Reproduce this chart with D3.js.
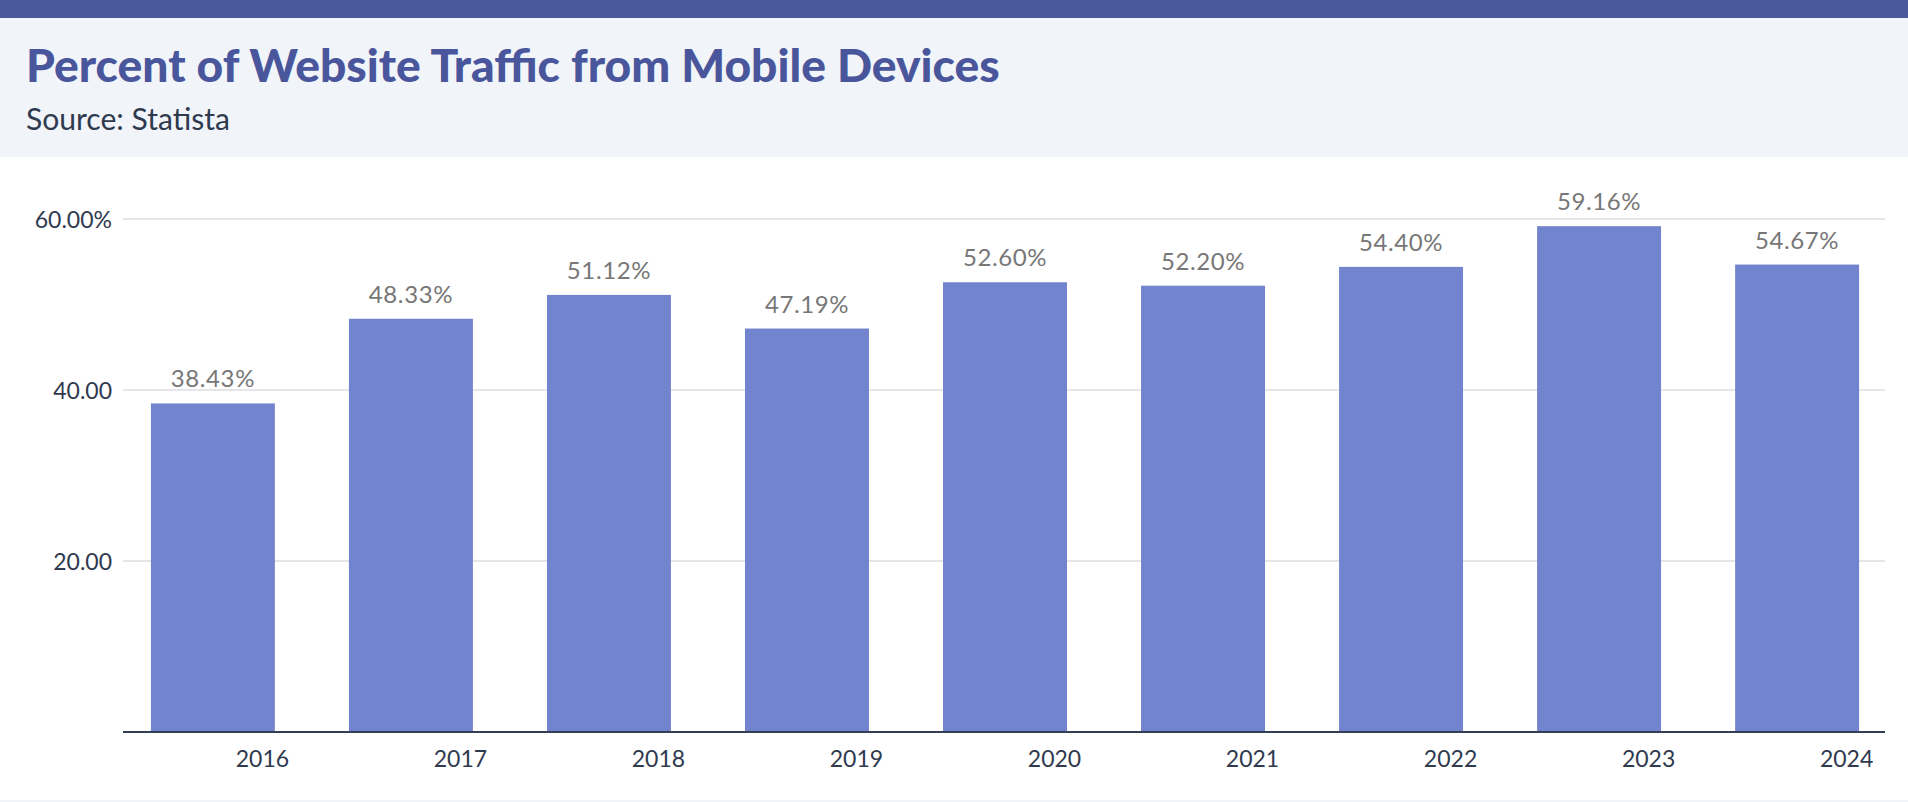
<!DOCTYPE html>
<html>
<head>
<meta charset="utf-8">
<script src="https://cdn.jsdelivr.net/npm/d3@7"></script>
<style>
  html, body { margin: 0; padding: 0; background: #ffffff; }
  svg { display: block; }
</style>
</head>
<body>
<script>
// ---- Data ----
const years = ["2016", "2017", "2018", "2019", "2020", "2021", "2022", "2023", "2024"];
const values = [38.43, 48.33, 51.12, 47.19, 52.60, 52.20, 54.40, 59.16, 54.67];
const valueLabels = ["38.43%", "48.33%", "51.12%", "47.19%", "52.60%", "52.20%", "54.40%", "59.16%", "54.67%"];
const yTicks = [20, 40, 60];
const yTickLabels = ["20.00", "40.00", "60.00%"];
const titleText = "Percent of Website Traffic from Mobile Devices";
const sourceText = "Source: Statista";

// ---- Layout ----
const W = 1908, H = 802;
const svg = d3.select("body").append("svg").attr("width", W).attr("height", H);

// header
svg.append("rect").attr("x", 0).attr("y", 0).attr("width", W).attr("height", 157).attr("fill", "#f1f4f9");
svg.append("rect").attr("x", 0).attr("y", 0).attr("width", W).attr("height", 18).attr("fill", "#4a589c");
svg.append("rect").attr("x", 0).attr("y", 800).attr("width", W).attr("height", 2).attr("fill", "#f1f4f9");

function fitText(sel, target) {
  const len = sel.node().getComputedTextLength();
  const fs = parseFloat(sel.attr("font-size"));
  sel.attr("font-size", (fs * target / len).toFixed(2));
}

const title = svg.append("text")
  .attr("x", 26).attr("y", 82)
  .attr("font-family", "Lato, 'Open Sans', sans-serif")
  .attr("font-weight", 900)
  .attr("font-size", 44)
  .attr("fill", "#4a569c")
  .text(titleText);
fitText(title, 974);

const source = svg.append("text")
  .attr("x", 26).attr("y", 130)
  .attr("font-family", "Lato, 'Open Sans', sans-serif")
  .attr("font-weight", 400)
  .attr("font-size", 26)
  .attr("fill", "#2f3a4f")
  .text(sourceText);
fitText(source, 204);

// ---- Scales ----
const x0 = 123, x1 = 1887;
const x = d3.scaleBand().domain(years).range([x0, x1]).paddingInner(0.374).paddingOuter(0.141);
const y = d3.scaleLinear().domain([0, 60]).range([732, 219]);

const font = "Lato, 'Open Sans', sans-serif";

// gridlines
svg.append("g").selectAll("line").data(yTicks).join("line")
  .attr("x1", 123).attr("x2", 1885)
  .attr("y1", d => y(d)).attr("y2", d => y(d))
  .attr("stroke", "#e6e6e8").attr("stroke-width", 2);

// y labels
svg.append("g").selectAll("text").data(yTicks).join("text")
  .attr("x", 112).attr("y", d => y(d))
  .attr("text-anchor", "end").attr("dominant-baseline", "central")
  .attr("font-family", font).attr("font-size", 23).attr("fill", "#2f3a4f")
  .text((d, i) => yTickLabels[i]);

// bars
svg.append("g").selectAll("rect").data(values).join("rect")
  .attr("x", (d, i) => x(years[i]))
  .attr("width", x.bandwidth())
  .attr("y", d => y(d))
  .attr("height", d => y(0) - y(d))
  .attr("fill", "#7284cd");

// value labels
svg.append("g").selectAll("text").data(values).join("text")
  .attr("x", (d, i) => x(years[i]) + x.bandwidth() / 2)
  .attr("y", d => y(d) - 16)
  .attr("text-anchor", "middle")
  .attr("font-family", font).attr("font-size", 24).attr("letter-spacing", 0.6).attr("fill", "#777777")
  .text((d, i) => valueLabels[i]);

// x axis line
svg.append("line").attr("x1", 123).attr("x2", 1885).attr("y1", 732).attr("y2", 732)
  .attr("stroke", "#343f55").attr("stroke-width", 2);

// x labels (offset to the right of bar centre, as in the reference)
svg.append("g").selectAll("text").data(years).join("text")
  .attr("x", d => x(d) + x.bandwidth() / 2 + x.step() * 0.25)
  .attr("y", 767)
  .attr("text-anchor", "middle")
  .attr("font-family", font).attr("font-size", 23).attr("fill", "#2f3a4f")
  .text(d => d);
</script>
</body>
</html>
